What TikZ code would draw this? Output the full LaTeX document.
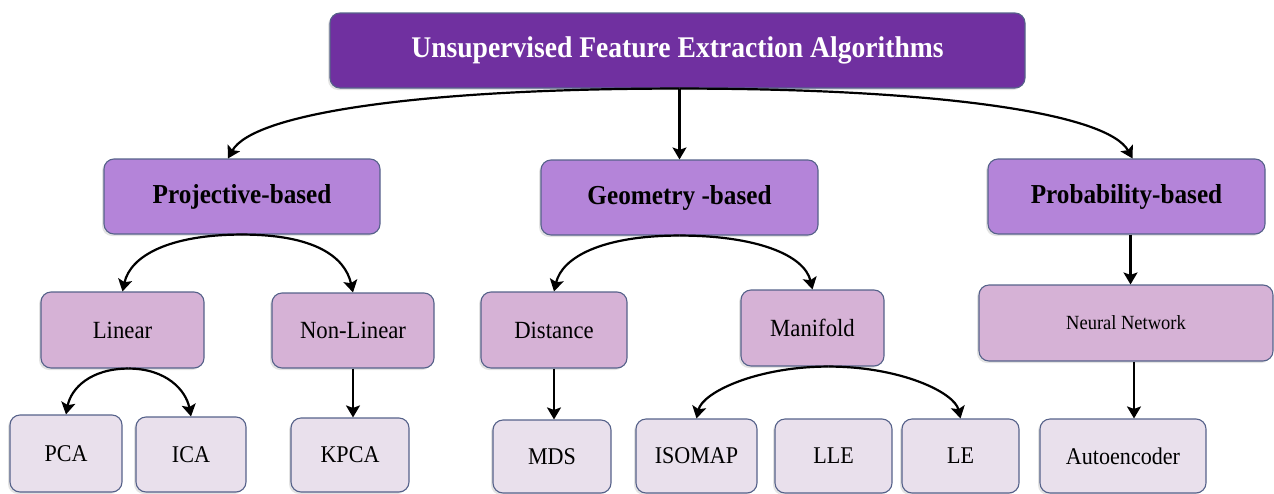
\documentclass[tikz,border=0pt]{standalone}
\usepackage{fontspec}
\setmainfont[FakeStretch=0.92]{Liberation Serif}
\usetikzlibrary{arrows.meta,shadows,calc}

\definecolor{rootfill}{HTML}{7030A0}
\definecolor{catfill}{HTML}{B484D9}
\definecolor{subfill}{HTML}{D6B2D6}
\definecolor{leaffill}{HTML}{E9E0EC}
\definecolor{edgeline}{HTML}{56628A}

\tikzset{
  box/.style={draw=edgeline, line width=1.1pt, rounded corners=10pt,
    inner sep=0pt, align=center,
    drop shadow={opacity=0.22, shadow xshift=-2pt, shadow yshift=-2pt}},
  rootbox/.style={box, fill=rootfill, text=white,
    font=\fontsize{30}{33}\selectfont\bfseries},
  catbox/.style={box, fill=catfill, font=\fontsize{27.4}{30}\selectfont\bfseries},
  subbox/.style={box, fill=subfill, font=\fontsize{24.7}{27}\selectfont},
  leafbox/.style={box, fill=leaffill, font=\fontsize{24}{27}\selectfont},
  link/.style={line width=2.2pt,
    -{Stealth[width=14pt,length=12pt,inset=2.5pt]}},
}

\begin{document}
\begin{tikzpicture}[x=1pt,y=-1pt]
\useasboundingbox (0,0) rectangle (1274,493);

% root
\node[rootbox, minimum width=695pt, minimum height=75pt] (root) at (677.5,50.5)
  {Unsupervised Feature Extraction Algorithms};

% categories
\node[catbox, minimum width=276pt, minimum height=75pt] (proj) at (242,196.5) {Projective-based};
\node[catbox, minimum width=277pt, minimum height=75pt] (geom) at (679.5,197.5) {Geometry -based};
\node[catbox, minimum width=277pt, minimum height=75pt] (prob) at (1126.5,196.5) {Probability-based};

% sub-families
\node[subbox, minimum width=163pt, minimum height=76pt] (lin) at (122.5,330) {Linear};
\node[subbox, minimum width=162pt, minimum height=75pt] (nonlin) at (353,330.5) {Non-Linear};
\node[subbox, minimum width=146pt, minimum height=76pt] (dist) at (554,330) {Distance};
\node[subbox, minimum width=143pt, minimum height=76pt] (mani) at (812.5,328) {Manifold};
\node[subbox, minimum width=294pt, minimum height=76pt, font=\fontsize{20.1}{24}\selectfont] (nn) at (1126,323) {Neural Network};

% methods
\node[leafbox, minimum width=112pt, minimum height=77pt] (pca) at (66,453.5) {PCA};
\node[leafbox, minimum width=110pt, minimum height=75pt] (ica) at (191,454.5) {ICA};
\node[leafbox, minimum width=118pt, minimum height=74pt] (kpca) at (350,455) {KPCA};
\node[leafbox, minimum width=118pt, minimum height=73pt] (mds) at (552,456.5) {MDS};
\node[leafbox, minimum width=121pt, minimum height=74pt] (iso) at (696.5,456) {ISOMAP};
\node[leafbox, minimum width=117pt, minimum height=74pt] (lle) at (833.5,456) {LLE};
\node[leafbox, minimum width=117pt, minimum height=74pt] (le) at (960.5,456) {LE};
\node[leafbox, minimum width=166pt, minimum height=74pt] (auto) at (1123,456) {Autoencoder};

% anchor points for the branching arcs
\coordinate (rootfork) at (geom.north |- root.south);
\coordinate (projin) at ([xshift=-14pt]proj.north);
\coordinate (probin) at ([xshift=6pt]prob.north);
\coordinate (linmid) at ($(pca.north)!0.5!(ica.north)$);
\coordinate (linfork) at (linmid |- lin.south);
\coordinate (manimid) at ($(iso.north)!0.5!(le.north)$);
\coordinate (manifork) at (manimid |- mani.south);
\coordinate (autoin) at ([xshift=11pt]auto.north);

% root to categories
\draw[link] (rootfork) -- (geom.north);
\draw[link] (rootfork) .. controls +(-260,0) and +(25,-45) .. (projin);
\draw[link] (rootfork) .. controls +(260,0) and +(-25,-45) .. (probin);

% projective branch
\draw[link] (proj.south) .. controls +(-72,0) and +(8,-36) .. (lin.north);
\draw[link] (proj.south) .. controls +(72,0) and +(-8,-36) .. (nonlin.north);
\draw[link] (linfork) .. controls +(-38,0) and +(5,-26) .. (pca.north);
\draw[link] (linfork) .. controls +(38,0) and +(-5,-26) .. (ica.north);
\draw[link] (nonlin.south) -- (nonlin.south |- kpca.north);

% geometry branch
\draw[link] (geom.south) .. controls +(-78,0) and +(8,-34) .. (dist.north);
\draw[link] (geom.south) .. controls +(78,0) and +(-8,-34) .. (mani.north);
\draw[link] (dist.south) -- (dist.south |- mds.north);
\draw[link] (manifork) .. controls +(-72,0) and +(6,-26) .. (iso.north);
\draw[link] (manifork) .. controls +(72,0) and +(-6,-26) .. (le.north);

% probability branch
\draw[link] ([xshift=4pt]prob.south) -- ([xshift=4pt]prob.south |- nn.north);
\draw[link] (nn.south -| autoin) -- (autoin);
\end{tikzpicture}
\end{document}
